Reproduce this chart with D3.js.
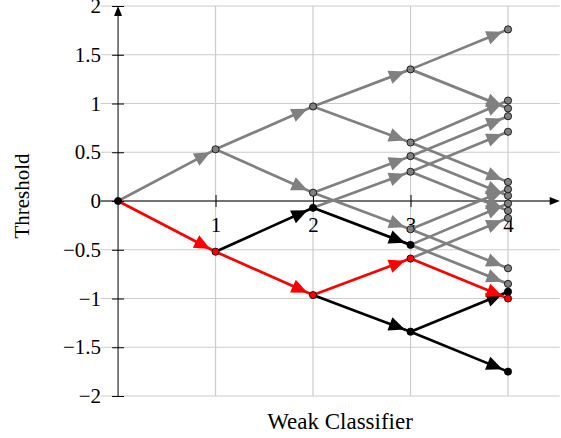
<!DOCTYPE html>
<html>
<head>
<meta charset="utf-8">
<script src="https://cdnjs.cloudflare.com/ajax/libs/d3/7.8.5/d3.min.js"></script>
<style>
body { margin: 0; background: #fff; }
svg { display: block; }
text { font-family: "Liberation Serif", "Times New Roman", serif; fill: #000; }
</style>
</head>
<body>
<svg id="chart" width="561" height="438"></svg>
<script>
// thresholds reached after each weak classifier
// node i of a level has its children at 2i and 2i+1 of the next level
var level0 = [0];
var level1 = [0.53, -0.52];
var level2 = [0.97, 0.085, -0.07, -0.965];
var level3 = [1.35, 0.6, 0.46, -0.29, 0.30, -0.45, -0.59, -1.34];
var level4 = [1.76, 0.95, 1.03, 0.195, 0.87, 0.054, 0.12, -0.69,
              0.71, -0.10, -0.025, -0.85, -0.175, -1.0, -0.93, -1.75];

// g = other paths, k = reachable, r = chosen path
var state0 = ["k"];
var state1 = ["g", "r"];
var state2 = ["g", "g", "k", "r"];
var state3 = ["g", "g", "g", "g", "g", "k", "r", "k"];
var state4 = ["g", "g", "g", "g", "g", "g", "g", "g",
              "g", "g", "g", "g", "g", "r", "k", "k"];

var xTicks = [1, 2, 3, 4];
var yTicks = [-2, -1.5, -1, -0.5, 0, 0.5, 1, 1.5, 2];

var levels = [level0, level1, level2, level3, level4];
var states = [state0, state1, state2, state3, state4];
var colors = {g: "#808080", k: "#000000", r: "#ff0000"};

var svg = d3.select("#chart");
var x = d3.scaleLinear().domain([-0.18, 4.53]).range([100.5, 559.7]);
var y = d3.scaleLinear().domain([-2, 2]).range([396, 6]);

// grid
var grid = svg.append("g").attr("stroke", "#cccccc").attr("stroke-width", 1.2);
grid.selectAll("line.h").data(yTicks).enter().append("line")
    .attr("x1", x(-0.18)).attr("x2", x(4.53))
    .attr("y1", d => y(d)).attr("y2", d => y(d));
grid.selectAll("line.v").data(xTicks).enter().append("line")
    .attr("x1", d => x(d)).attr("x2", d => x(d))
    .attr("y1", y(2)).attr("y2", y(-2));

// axes through the origin
var fmt = d3.format("");
var yAxis = svg.append("g")
    .attr("transform", "translate(" + x(0) + ",0)")
    .call(d3.axisLeft(y).tickValues(yTicks).tickFormat(fmt).tickSizeInner(6).tickSizeOuter(0).tickPadding(11));
var xAxis = svg.append("g")
    .attr("transform", "translate(0," + y(0) + ")")
    .call(d3.axisBottom(x).tickValues(xTicks).tickFormat(fmt).tickSizeInner(6).tickSizeOuter(0).tickPadding(10));

[yAxis, xAxis].forEach(function (a) {
    a.select(".domain").remove();
    a.selectAll("text").style("font-size", "21px").style("font-family", "'Liberation Serif', serif");
    a.selectAll(".tick line").attr("stroke", "#000").attr("stroke-width", 1);
});
yAxis.selectAll(".tick line").attr("x1", -6).attr("x2", 6);
xAxis.selectAll(".tick line").attr("y1", -6).attr("y2", 6);

svg.append("line")
    .attr("x1", x(0)).attr("x2", x(0))
    .attr("y1", y(-2) + 1).attr("y2", y(2) + 8)
    .attr("stroke", "#000").attr("stroke-width", 1);
svg.append("path")
    .attr("d", "M" + x(0) + "," + y(2) + " l-4,10 l8,0 z")
    .attr("fill", "#000");
svg.append("line")
    .attr("x1", x(-0.18)).attr("x2", x(4.53) - 8)
    .attr("y1", y(0)).attr("y2", y(0))
    .attr("stroke", "#000").attr("stroke-width", 1);
svg.append("path")
    .attr("d", "M" + x(4.53) + "," + y(0) + " l-10,-4 l0,8 z")
    .attr("fill", "#000");

// axis titles
svg.append("text")
    .attr("x", 340).attr("y", 429)
    .attr("text-anchor", "middle")
    .style("font-size", "23px")
    .text("Weak Classifier");
svg.append("text")
    .attr("transform", "translate(29,196) rotate(-90)")
    .attr("text-anchor", "middle")
    .style("font-size", "21px")
    .text("Threshold");

// build edges and nodes from the level arrays
var edges = [], nodes = [];
levels.forEach(function (lv, k) {
    lv.forEach(function (v, i) {
        nodes.push({x: k, y: v, s: states[k][i]});
        if (k > 0) {
            edges.push({x0: k - 1, y0: levels[k - 1][Math.floor(i / 2)], x1: k, y1: v, s: states[k][i]});
        }
    });
});

var order = {g: 0, k: 1, r: 2};
edges.sort((a, b) => order[a.s] - order[b.s]);
nodes.sort((a, b) => order[a.s] - order[b.s]);

function arrowHead(d) {
    var ax = x(d.x0), ay = y(d.y0), bx = x(d.x1), by = y(d.y1);
    var dx = bx - ax, dy = by - ay, len = Math.sqrt(dx * dx + dy * dy);
    var ux = dx / len, uy = dy / len;
    var tx = bx - ux * 6, ty = by - uy * 6;
    var L = 16, W = 7;
    var cx = tx - ux * L, cy = ty - uy * L;
    return "M" + tx + "," + ty +
        "L" + (cx - uy * W) + "," + (cy + ux * W) +
        "L" + (cx + uy * W) + "," + (cy - ux * W) + "Z";
}

var edgeG = svg.append("g");
edges.forEach(function (d) {
    edgeG.append("line")
        .attr("x1", x(d.x0)).attr("y1", y(d.y0))
        .attr("x2", x(d.x1)).attr("y2", y(d.y1))
        .attr("stroke", colors[d.s]).attr("stroke-width", 2.7);
    edgeG.append("path")
        .attr("d", arrowHead(d))
        .attr("fill", colors[d.s]);
});

svg.append("g")
    .selectAll("circle")
    .data(nodes)
    .enter()
    .append("circle")
    .attr("cx", d => x(d.x))
    .attr("cy", d => y(d.y))
    .attr("r", 3.6)
    .attr("fill", d => colors[d.s])
    .attr("stroke", "#000")
    .attr("stroke-width", 0.8);
</script>
</body>
</html>
